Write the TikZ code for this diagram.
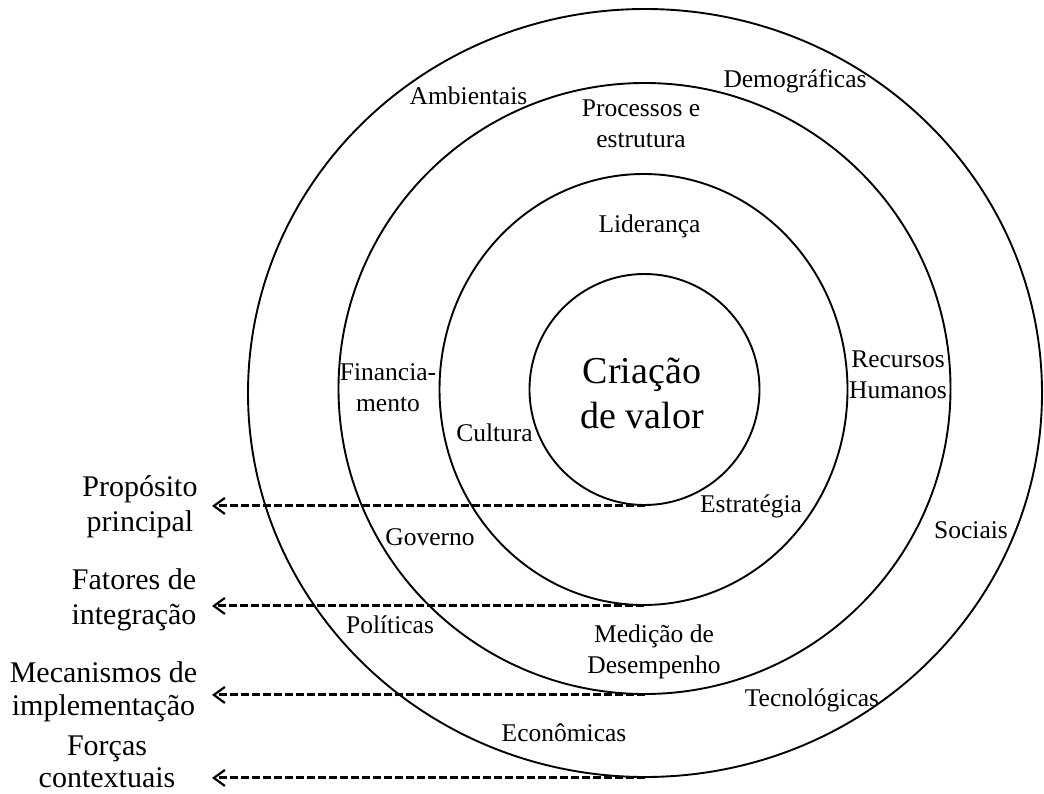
\documentclass[tikz,border=0pt]{standalone}
\usepackage{fontspec}
\setmainfont{Liberation Serif}
\usetikzlibrary{shapes.geometric,arrows.meta}
\newcommand{\mlines}[1]{\begin{tabular}[t]{@{}c@{}}#1\end{tabular}}
\begin{document}
\begin{tikzpicture}[x=1pt,y=-1pt,
  ring/.style={ellipse,draw,line width=1.9pt,inner sep=0pt},
  lbl/.style={anchor=base,inner sep=0pt,font=\fontsize{25.5}{31}\selectfont},
  side/.style={anchor=base,inner sep=0pt,font=\fontsize{30}{35}\selectfont},
  core/.style={anchor=base,inner sep=0pt,font=\fontsize{38}{45}\selectfont},
  darrow/.style={line width=3pt,dash pattern=on 8pt off 3pt,-{Straight Barb[length=11pt,width=16pt,line width=2.2pt]}}]
\useasboundingbox (0,0) rectangle (1044,794);
% rings
\node[ring,minimum width=794pt,minimum height=768pt] (outer) at (645,393) {};
\node[ring,minimum width=612pt,minimum height=611pt] (second) at (644.5,388.5) {};
\node[ring,minimum width=408pt,minimum height=431pt] (third) at (643.5,389.5) {};
\node[ring,minimum width=230pt,minimum height=231pt] (inner) at (644.5,389.5) {};
% core
\node[core] (cv) at (642,383) {\mlines{Criação\\de valor}};
% outer ring labels
\node[lbl] (amb) at (468.5,105) {Ambientais};
\node[lbl] (dem) at (795,88) {Demográficas};
\node[lbl] (soc) at (971,538) {Sociais};
\node[lbl] (tec) at (812,706) {Tecnológicas};
\node[lbl] (eco) at (564,741) {Econômicas};
\node[lbl] (pol) at (390,633) {Políticas};
% second ring labels
\node[lbl] (proc) at (641,117) {\mlines{Processos e\\estrutura}};
\node[lbl] (fin) at (388,380) {\mlines{Financia-\\mento}};
\node[lbl] (rh) at (898,367) {\mlines{Recursos\\Humanos}};
\node[lbl] (gov) at (430,545) {Governo};
\node[lbl] (med) at (654,642) {\mlines{Medição de\\Desempenho}};
% third ring labels
\node[lbl] (lid) at (649.5,233) {Liderança};
\node[lbl] (cul) at (494.5,441) {Cultura};
\node[lbl] (est) at (751,512) {Estratégia};
% side labels
\node[side] (prop) at (140,496) {\mlines{Propósito\\principal}};
\node[side] (fat) at (134,589) {\mlines{Fatores de\\integração}};
\node[side,font=\fontsize{30}{33}\selectfont] (mec) at (103.5,682) {\mlines{Mecanismos de\\implementação}};
\node[side,font=\fontsize{30}{32}\selectfont] (forc) at (107,755) {\mlines{Forças\\contextuais}};
% arrow tips
\coordinate (tipx) at (212,0);
\draw[darrow] (inner.south) -- (inner.south -| tipx);
\draw[darrow] (third.south) -- (third.south -| tipx);
\draw[darrow] (second.south) -- (second.south -| tipx);
\draw[darrow] (outer.south) -- (outer.south -| tipx);
\end{tikzpicture}
\end{document}
